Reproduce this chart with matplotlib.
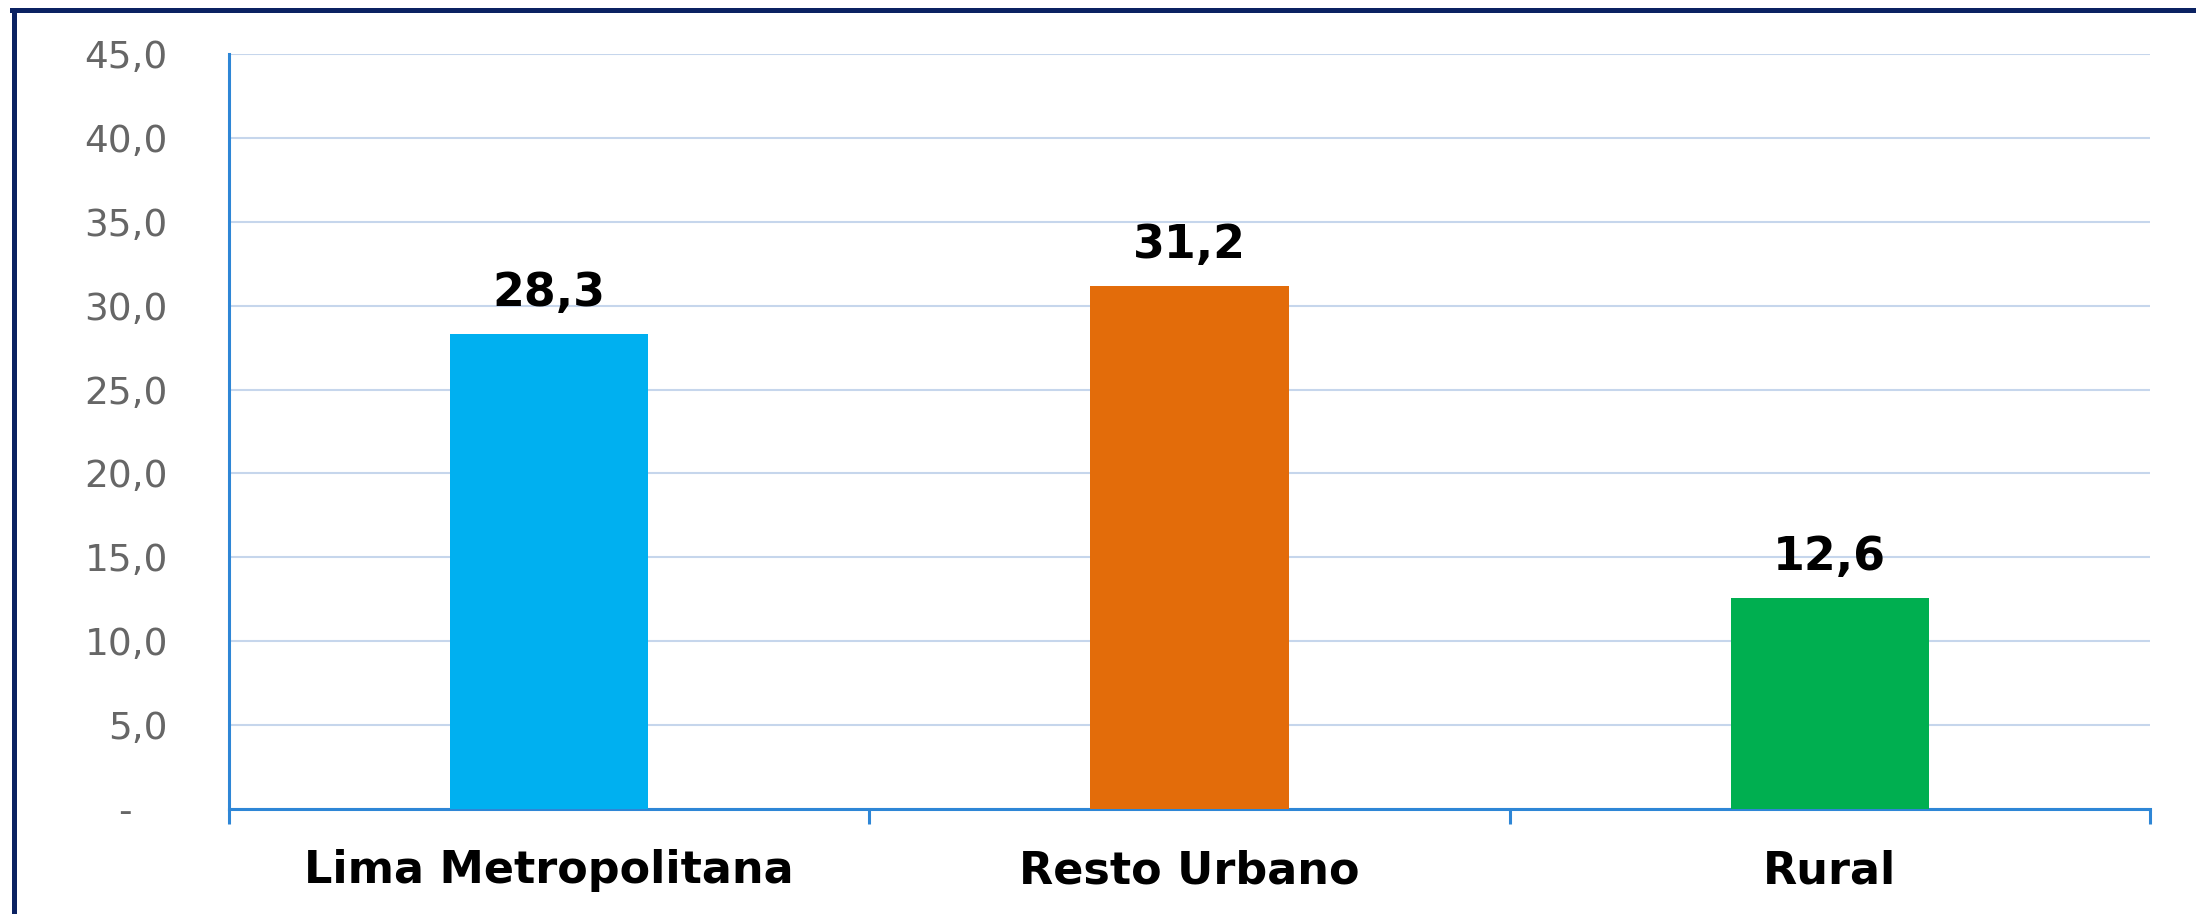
import matplotlib
matplotlib.use("Agg")
import matplotlib.pyplot as plt
from matplotlib.lines import Line2D
from matplotlib.ticker import FuncFormatter

categories = ["Lima Metropolitana", "Resto Urbano", "Rural"]
values = [28.3, 31.2, 12.6]
colors = ["#00B0F0", "#E36C0A", "#00AF50"]
yticks = [0, 5, 10, 15, 20, 25, 30, 35, 40, 45]

plt.rcParams["font.family"] = "DejaVu Sans"

fig = plt.figure(figsize=(21.96, 9.14), dpi=100)
ax = fig.add_axes([229/2196, 105/914, 1921/2196, 755/914])

x = range(len(categories))
ax.bar(x, values, width=0.31, color=colors, zorder=3)
ax.set_xlim(-0.5, 2.5)
ax.set_ylim(0, 45)

# value labels
for xi, v in zip(x, values):
    ax.annotate(f"{v:.1f}".replace(".", ","), (xi, v), xytext=(0, 20),
                textcoords="offset points", ha="center", va="baseline",
                fontsize=33, fontweight="bold", color="black")

def fmt(v, pos):
    if v == 0:
        return "-   "
    return f"{v:.1f}".replace(".", ",")

ax.set_yticks(yticks)
ax.yaxis.set_major_formatter(FuncFormatter(fmt))
ax.tick_params(axis="y", length=0, pad=44, labelsize=27, labelcolor="#666666")

ax.set_xticks(list(x))
ax.set_xticklabels(categories, fontsize=32, fontweight="bold")
ax.tick_params(axis="x", length=0, pad=29)
ax.set_xticks([-0.5, 0.5, 1.5, 2.5], minor=True)
ax.tick_params(axis="x", which="minor", length=11, width=2.2, color="#2E86D6")

ax.grid(axis="y", color="#C6D6EC", linewidth=1.5, zorder=0)
for s in ["top", "right"]:
    ax.spines[s].set_visible(False)
for s in ["left", "bottom"]:
    ax.spines[s].set_color("#2E86D6")
    ax.spines[s].set_linewidth(2.2)
ax.spines["left"].set_bounds(0, 45)

# outer frame (left and top visible)
fig.add_artist(Line2D([14/2196, 14/2196], [0, 1 - 10/914], color="#0B2262", linewidth=3.6,
                      transform=fig.transFigure))
fig.add_artist(Line2D([12/2196, 1], [1 - 10/914, 1 - 10/914], color="#0B2262", linewidth=3.6,
                      transform=fig.transFigure))

fig.savefig("out.png", dpi=100)
